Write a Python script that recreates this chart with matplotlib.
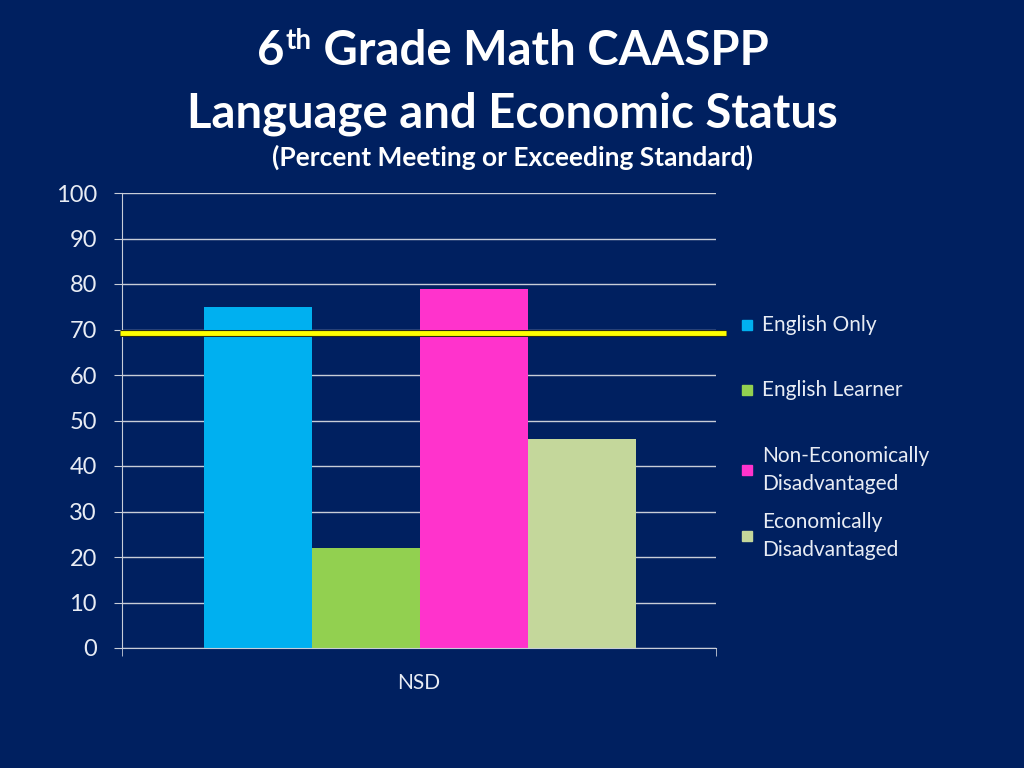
import matplotlib.pyplot as plt
from matplotlib.patches import Rectangle

# data
groups = ['English Only', 'English Learner', 'Non-Economically\nDisadvantaged',
          'Economically\nDisadvantaged']
values = [75, 22, 79, 46]
colors = ['#00b0f0', '#92d050', '#ff33cc', '#c4d79b']
category = 'NSD'
target = 69.3
yticks = list(range(0, 101, 10))

bg = '#002060'
fg = '#e8ecf4'
plt.rcParams['font.family'] = ['Lato', 'DejaVu Sans']

fig = plt.figure(figsize=(10.24, 7.68), dpi=100, facecolor=bg)
ax = fig.add_axes([122 / 1024, 1 - 648 / 768, 594 / 1024, 455 / 768], facecolor=bg)

bw = 108 / 594
start = (204 - 122) / 594 - 0.5
for i, (v, c) in enumerate(zip(values, colors)):
    ax.bar(start + i * bw, v, width=bw, align='edge', color=c, zorder=2)

ax.set_xlim(-0.5, 0.5)
ax.set_ylim(0, 100)
ax.set_yticks(yticks)
ax.set_xticks([0])
ax.set_xticklabels([category])
ax.set_xticks([-0.5, 0.5], minor=True)
ax.tick_params(axis='y', colors='#c8cdd8', labelcolor=fg, labelsize=17, length=6, pad=12)
ax.tick_params(axis='x', which='major', length=0, labelcolor=fg, labelsize=15, pad=18)
ax.tick_params(axis='x', which='minor', colors='#c8cdd8', length=6)
ax.grid(axis='y', color='#c8cdd8', linewidth=1, zorder=1)
for s in ['top', 'right']:
    ax.spines[s].set_visible(False)
for s in ['left', 'bottom']:
    ax.spines[s].set_color('#c8cdd8')

# yellow target line, runs a bit past the plot area
tr = ax.get_yaxis_transform()
ax.plot([-0.004, 1.016], [target - 0.15, target - 0.15], transform=tr, color='#2a2a10',
        linewidth=5, solid_capstyle='butt', clip_on=False, zorder=4)
ax.plot([-0.004, 1.016], [target, target], transform=tr, color='#ffff00',
        linewidth=3.5, solid_capstyle='butt', clip_on=False, zorder=5)

# legend drawn by hand to keep the uneven spacing
leg_y = [325, 390, 470, 536]
for g, c, y in zip(groups, colors, leg_y):
    fig.patches.append(Rectangle((742 / 1024, 1 - (y + 5) / 768), 10 / 1024, 10 / 768,
                                 transform=fig.transFigure, color=c, figure=fig))
    fig.text(762 / 1024, 1 - y / 768, g, color=fg, fontsize=15, va='center',
             ha='left', linespacing=1.55)

# title
t6 = fig.text(257 / 1024, 1 - 65 / 768, '6', color='white', fontsize=34,
              fontweight='bold', ha='left', va='baseline')
th = ax.annotate('th', xy=(1, 1), xycoords=t6, xytext=(1, 1), textcoords='offset points',
                 color='white', fontsize=20, fontweight='bold', ha='left', va='top')
ax.annotate(' Grade Math CAASPP', xy=(1, 0), xycoords=(th, t6), color='white',
            fontsize=34, fontweight='bold', ha='left', va='bottom')
fig.text(0.5, 1 - 127 / 768, 'Language and Economic Status', color='white', fontsize=34,
         fontweight='bold', ha='center', va='baseline')
fig.text(0.5, 1 - 166 / 768, '(Percent Meeting or Exceeding Standard)', color='white',
         fontsize=19, fontweight='bold', ha='center', va='baseline')

fig.savefig('out.png', dpi=100, facecolor=bg)
